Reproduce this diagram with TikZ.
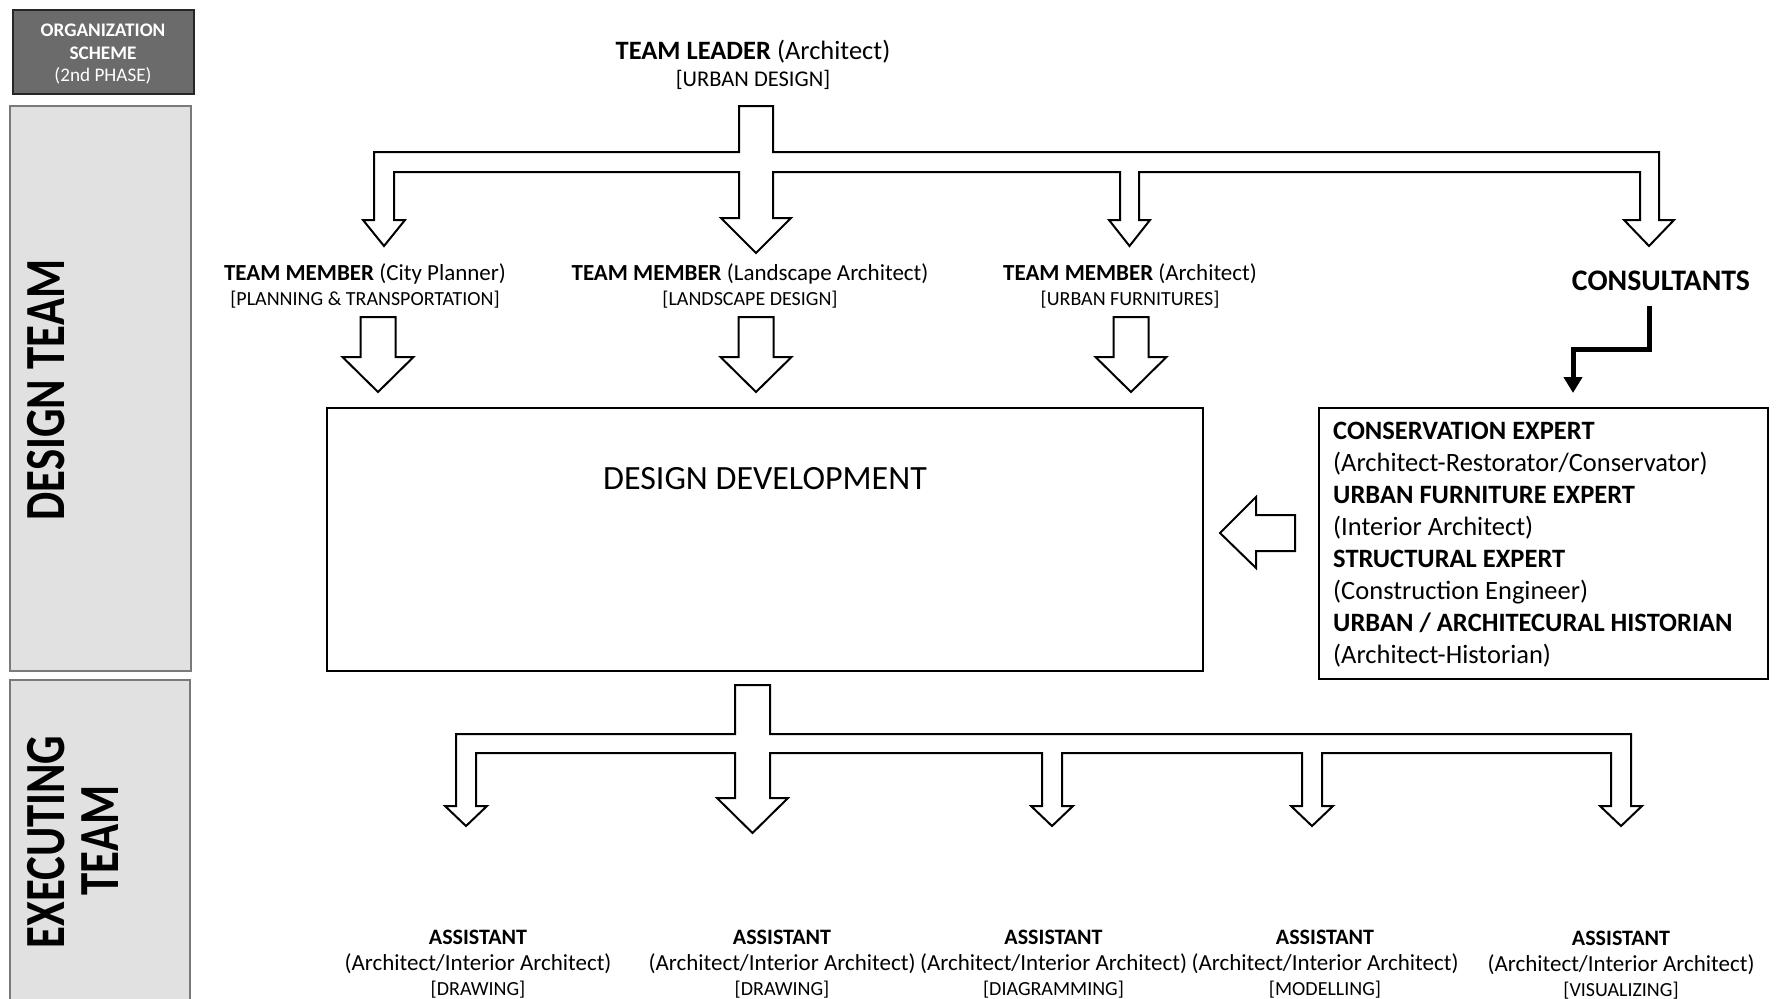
\documentclass[tikz,border=0pt]{standalone}
\usepackage{fontspec}
\usepackage{graphicx}
\setmainfont{Carlito}
\usetikzlibrary{arrows.meta}
\newcommand\setfs[1]{\fontsize{#1pt}{#1pt}\selectfont}
\newcommand\blockdown[7]{% name, cx, ytop, shaft half, head half, yhead, ytip
  \draw[barrow] (#2-#4,#3) -- (#2+#4,#3) -- (#2+#4,#6) -- (#2+#5,#6) -- (#2,#7)
    -- (#2-#5,#6) -- (#2-#4,#6) -- cycle;}
\definecolor{sidefill}{HTML}{E1E1E1}
\definecolor{sidedraw}{HTML}{7A7A7A}
\definecolor{orgfill}{HTML}{6B6B6B}
\tikzset{
  barrow/.style={draw=black, line width=2pt, fill=white, line join=miter},
  framebox/.style={draw=black, line width=2.5pt, fill=white, inner sep=0pt},
  sidebox/.style={draw=sidedraw, line width=1.5pt, fill=sidefill, inner sep=0pt},
  orgbox/.style={draw=black!85, line width=2pt, fill=orgfill, inner sep=0pt},
  txt/.style={inner sep=0pt, anchor=base},
  sidetxt/.style={inner sep=0pt, rotate=90},
  thickarr/.style={line width=5pt, line join=miter, -{Triangle[width=18pt,length=16pt]}},
}
\begin{document}
\begin{tikzpicture}[x=1pt,y=-1pt]
\useasboundingbox (0,0) rectangle (1787,998);
\clip (0,0) rectangle (1787,998);
\fill[white] (0,0) rectangle (1787,998);

% ---- left column ----
\node[orgbox, minimum width=181.5pt, minimum height=83.5pt] (org) at (103.25,51.75) {};
\node[txt, text=white, font=\setfs{19.2}\bfseries] (org1) at (103,37) {ORGANIZATION};
\node[txt, text=white, font=\setfs{19.2}\bfseries] (org2) at (103,59.5) {SCHEME};
\node[txt, text=white, font=\setfs{19.2}] (org3) at (103,81.5) {(2nd PHASE)};

\node[sidebox, minimum width=181pt, minimum height=565pt] (dteam) at (100.5,388.5) {};
\node[sidetxt] (dteamtxt) at (46.5,390) {\scalebox{0.79}[1]{\setfs{56.7}\bfseries DESIGN TEAM}};

\node[sidebox, minimum width=180pt, minimum height=330pt] (eteam) at (100,845) {};
\node[sidetxt] (eteam1) at (46.5,842) {\scalebox{0.79}[1]{\setfs{56.7}\bfseries EXECUTING}};
\node[sidetxt] (eteam2) at (100.5,840.5) {\scalebox{0.79}[1]{\setfs{56.7}\bfseries TEAM}};

% ---- team leader ----
\node[txt, font=\setfs{26.5}] (leader) at (753,59.5) {\textbf{TEAM LEADER} (Architect)};
\node[txt, font=\setfs{22.5}] (leader2) at (753,86) {[URBAN DESIGN]};

% ---- top distribution arrow ----
\draw[barrow] (739,106) -- (773,106) -- (773,152) -- (1659,152) -- (1659,220) -- (1674,220)
  -- (1649,246) -- (1624,220) -- (1640,220) -- (1640,172) -- (1139,172) -- (1139,220)
  -- (1150,220) -- (1129.5,246) -- (1109,220) -- (1120,220) -- (1120,172) -- (773,172)
  -- (773,218) -- (791,218) -- (756,253) -- (721,218) -- (739,218) -- (739,172)
  -- (394,172) -- (394,220) -- (405,220) -- (384,246) -- (363,220) -- (374,220)
  -- (374,152) -- (739,152) -- cycle;

% ---- team members ----
\node[txt, font=\setfs{23}] (tm1) at (365,280.5) {\textbf{TEAM MEMBER} (City Planner)};
\node[txt, font=\setfs{20}] (tm1b) at (365,305) {[PLANNING \& TRANSPORTATION]};
\node[txt, font=\setfs{23}] (tm2) at (750,280.5) {\textbf{TEAM MEMBER} (Landscape Architect)};
\node[txt, font=\setfs{20}] (tm2b) at (750,305) {[LANDSCAPE DESIGN]};
\node[txt, font=\setfs{23}] (tm3) at (1130,280.5) {\textbf{TEAM MEMBER} (Architect)};
\node[txt, font=\setfs{20}] (tm3b) at (1130,305) {[URBAN FURNITURES]};
\node[txt, font=\setfs{29.8}\bfseries] (cons) at (1661,290) {CONSULTANTS};

% ---- arrows into design development ----
\blockdown{a1}{378}{317}{17.5}{35.5}{357}{392}
\blockdown{a2}{756}{317}{17.5}{35.5}{357}{392}
\blockdown{a3}{1131}{317}{17.5}{35.5}{357}{392}

% ---- design development ----
\node[framebox, minimum width=876pt, minimum height=263pt] (dd) at (765,539.5) {};
\node[txt, font=\setfs{34}] (ddtxt) at (765,489) {DESIGN DEVELOPMENT};

% ---- consultants box ----
\node[framebox, minimum width=449pt, minimum height=271pt] (cbox) at (1543.3,543.5) {};
\node[txt, anchor=base west, font=\setfs{26.5}\bfseries] (c1) at (1333,439) {CONSERVATION EXPERT};
\node[txt, anchor=base west, font=\setfs{26.5}] (c2) at (1333,471) {(Architect-Restorator/Conservator)};
\node[txt, anchor=base west, font=\setfs{26.5}\bfseries] (c3) at (1333,503) {URBAN FURNITURE EXPERT};
\node[txt, anchor=base west, font=\setfs{26.5}] (c4) at (1333,535) {(Interior Architect)};
\node[txt, anchor=base west, font=\setfs{26.5}\bfseries] (c5) at (1333,567) {STRUCTURAL EXPERT};
\node[txt, anchor=base west, font=\setfs{26.5}] (c6) at (1333,599) {(Construction Engineer)};
\node[txt, anchor=base west, font=\setfs{26.5}\bfseries] (c7) at (1333,631) {URBAN / ARCHITECURAL HISTORIAN};
\node[txt, anchor=base west, font=\setfs{26.5}] (c8) at (1333,663) {(Architect-Historian)};

% consultants -> box
\coordinate (cs) at (1649,306);
\coordinate (ct) at (1573,393);
\draw[thickarr] (cs) -- (1649,349) -| (ct);

% box -> design development
\draw[barrow] (1295,515) -- (1295,551) -- (1256,551) -- (1256,568) -- (1220,533)
  -- (1256,497) -- (1256,515) -- cycle;

% ---- bottom distribution arrow ----
\draw[barrow] (735,685) -- (770,685) -- (770,734) -- (1631,734) -- (1631,806) -- (1642,806)
  -- (1621,826) -- (1600,806) -- (1611,806) -- (1611,753) -- (1322,753) -- (1322,806)
  -- (1333,806) -- (1312,826) -- (1291,806) -- (1302,806) -- (1302,753) -- (1062,753)
  -- (1062,806) -- (1073,806) -- (1052,826) -- (1031,806) -- (1042,806) -- (1042,753)
  -- (770,753) -- (770,798) -- (788,798) -- (752.5,833) -- (717,798) -- (735,798)
  -- (735,753) -- (476,753) -- (476,806) -- (487,806) -- (466,826) -- (445,806)
  -- (456,806) -- (456,734) -- (735,734) -- cycle;

% ---- assistants ----
\foreach \n/\x/\t/\dy in {1/478/DRAWING/0, 2/782/DRAWING/0, 3/1053.5/DIAGRAMMING/0, 4/1325/MODELLING/0, 5/1621/VISUALIZING/1}{
  \node[txt, font=\setfs{22}\bfseries] (as\n) at (\x,944+\dy) {ASSISTANT};
  \node[txt, font=\setfs{23}] (as\n b) at (\x,970+\dy) {(Architect/Interior Architect)};
  \node[txt, font=\setfs{20}] (as\n c) at (\x,995+\dy) {[\t]};
}
\end{tikzpicture}
\end{document}
